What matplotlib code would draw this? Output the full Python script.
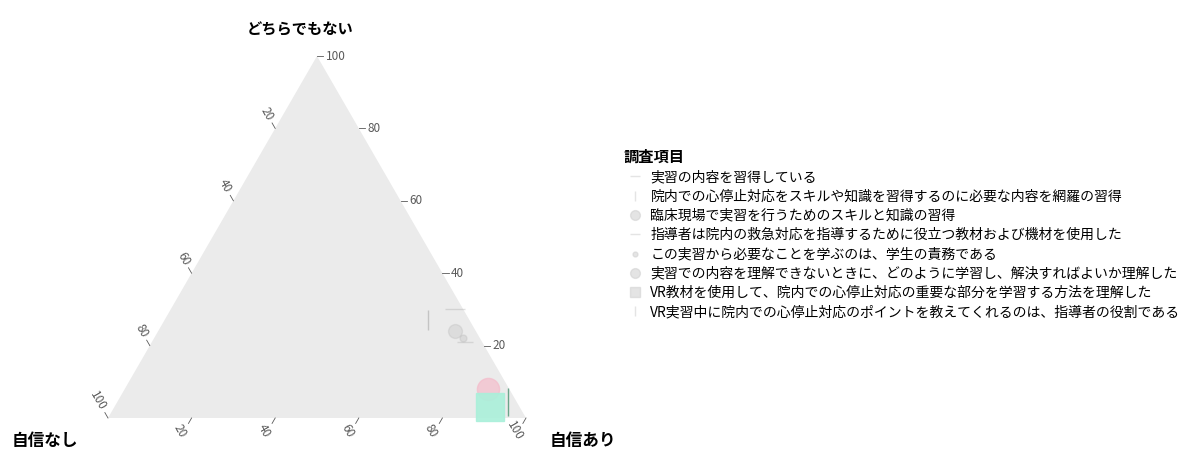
import numpy as np
import matplotlib.pyplot as plt
from matplotlib.patches import Polygon
from matplotlib.lines import Line2D

plt.rcParams['font.family'] = ['Noto Sans CJK JP', 'DejaVu Sans']

# 調査項目ごとの回答割合 (自信なし, どちらでもない, 自信あり)
items = [
    '実習の内容を習得している',
    '院内での心停止対応をスキルや知識を習得するのに必要な内容を網羅の習得',
    '臨床現場で実習を行うためのスキルと知識の習得',
    '指導者は院内の救急対応を指導するために役立つ教材および機材を使用した',
    'この実習から必要なことを学ぶのは、学生の責務である',
    '実習での内容を理解できないときに、どのように学習し、解決すればよいか理解した',
    'VR教材を使用して、院内での心停止対応の重要な部分を学習する方法を理解した',
    'VR実習中に院内での心停止対応のポイントを教えてくれるのは、指導者の役割である',
]
jishin_nashi = [2, 10, 5, 4, 4, 5, 7, 2]
dochira = [30, 27, 24, 21, 22, 8, 3, 4.5]
jishin_ari = [68, 63, 71, 75, 74, 87, 90, 93.5]

markers = ['_', '|', 'o', '_', '.', 'o', 's', '|']
colors = ['#9a9a9a', '#8a8a8a', '#b0b0b0', '#a0a0a0', '#b5b5b5', '#f4bccb', '#aaf0da', '#3f8f6a']
sizes = [14, 14, 10, 12, 10, 16, 20, 20]
alphas = [0.3, 0.4, 0.25, 0.3, 0.3, 0.7, 0.9, 0.75]

ticks = [20, 40, 60, 80, 100]
H = np.sqrt(3) / 2


def tern_xy(l, t, r):
    s = l + t + r
    return (r + t / 2) / s, t * H / s


fig = plt.figure(figsize=(11.93, 4.65), dpi=100)
ax = fig.add_axes([108 / 1193, 47 / 465, 418 / 1193, 362 / 465])
ax.set_xlim(0, 1)
ax.set_ylim(0, H)
ax.axis('off')

# パネル背景
ax.add_patch(Polygon([[0, 0], [1, 0], [0.5, H]], closed=True,
                     facecolor='#ebebeb', edgecolor='none', zorder=0))

tick_col = '#5a5a5a'
tl = 0.015
for v in ticks:
    # どちらでもない (右辺)
    x, y = tern_xy(0, v, 100 - v)
    ax.plot([x, x + tl], [y, y], color=tick_col, lw=0.6, clip_on=False)
    ax.text(x + tl + 0.006, y, str(v), color=tick_col, fontsize=8.5,
            ha='left', va='center', clip_on=False)
    # 自信なし (左辺)
    x, y = tern_xy(v, 100 - v, 0)
    dx, dy = -0.5 * tl, H * tl
    ax.plot([x, x + dx], [y, y + dy], color=tick_col, lw=0.6, clip_on=False)
    ax.text(x + dx * 1.6, y + dy * 1.6, str(v), color=tick_col, fontsize=8.5,
            rotation=-60, rotation_mode='anchor', ha='right', va='center',
            clip_on=False)
    # 自信あり (底辺)
    x, y = tern_xy(100 - v, 0, v)
    dx, dy = -0.5 * tl, -H * tl
    ax.plot([x, x + dx], [y, y + dy], color=tick_col, lw=0.6, clip_on=False)
    ax.text(x + dx * 1.8, y + dy * 1.8, str(v), color=tick_col, fontsize=8.5,
            rotation=-60, rotation_mode='anchor', ha='center', va='top',
            clip_on=False)

# 軸タイトル
fig.text(300 / 1193, 1 - 29 / 465, 'どちらでもない', fontsize=11, fontweight='bold',
         ha='center', va='center')
fig.text(45 / 1193, 1 - 441 / 465, '自信なし', fontsize=12, fontweight='bold',
         ha='center', va='center')
fig.text(583 / 1193, 1 - 441 / 465, '自信あり', fontsize=12, fontweight='bold',
         ha='center', va='center')

# 各項目の点
handles = []
for i, name in enumerate(items):
    x, y = tern_xy(jishin_nashi[i], dochira[i], jishin_ari[i])
    ax.plot(x, y, marker=markers[i], color=colors[i], markersize=sizes[i],
            alpha=alphas[i], linestyle='none', clip_on=False, zorder=3)
    handles.append(Line2D([], [], marker=markers[i], color='#d2d2d2',
                          markersize=7, alpha=0.6, linestyle='none', label=name))

leg = fig.legend(handles=handles, loc='upper left', bbox_to_anchor=(624 / 1193, 1 - 149 / 465),
                 frameon=False, title='調査項目', fontsize=10, alignment='left',
                 title_fontproperties={'size': 11, 'weight': 'bold'},
                 handletextpad=0.3, handlelength=1.6, labelspacing=0.38,
                 borderaxespad=0, borderpad=0)

fig.savefig('out.png', dpi=100)
